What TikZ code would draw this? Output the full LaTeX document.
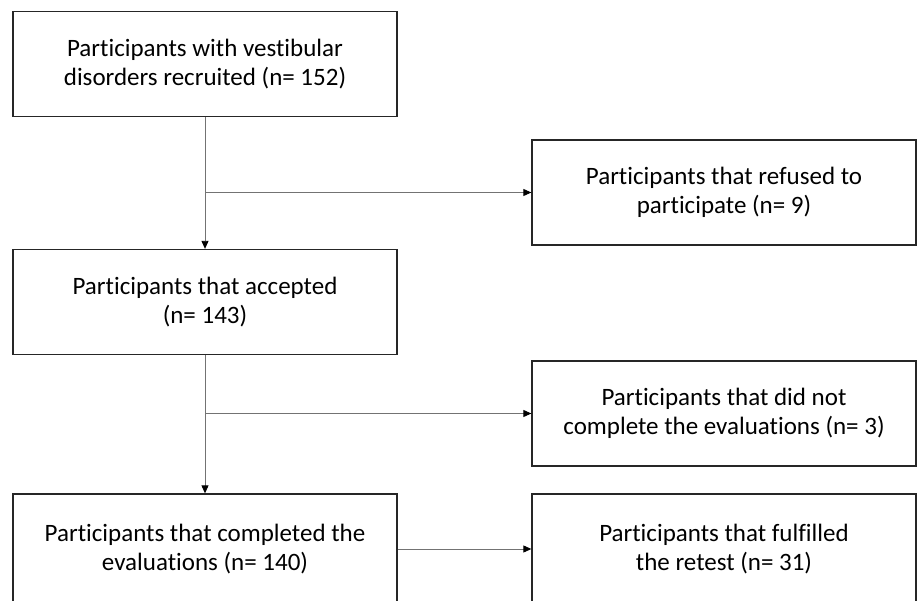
\documentclass[tikz,border=0pt]{standalone}
\usepackage{fontspec}
\setmainfont{Carlito}[Ligatures=NoCommon]
\usetikzlibrary{arrows.meta}
\begin{document}
\begin{tikzpicture}[x=1pt,y=1pt,
  box/.style={draw=black!85,line width=1.3pt,minimum width=384pt,minimum height=105pt,
    align=center,inner sep=0pt,font=\fontsize{25}{29}\selectfont,text=black},
  conn/.style={draw=black!55,line width=0.9pt,-{Triangle[length=8pt,width=7pt,color=black]}}]
\useasboundingbox (0,0) rectangle (917,601);
\clip (0,0) rectangle (917,601);
\node[box] (b1) at (205,537) {Participants with vestibular\\disorders recruited (n= 152)};
\node[box] (b2) at (724,408.5) {Participants that refused to\\participate (n= 9)};
\node[box] (b3) at (205,299) {Participants that accepted\\(n= 143)};
\node[box] (b4) at (724,187.5) {Participants that did not\\complete the evaluations (n= 3)};
\node[box,minimum height=110pt] (b5) at (205,52) {Participants that completed the\\evaluations (n= 140)};
\node[box,minimum height=110pt] (b6) at (724,52) {Participants that fulfilled\\the retest (n= 31)};
\draw[conn] (b1.south) -- (b3.north);
\coordinate (j1) at (b1.south |- b2.west);
\draw[conn] (j1) -- (b2.west);
\draw[conn] (b3.south) -- (b5.north);
\coordinate (j2) at (b3.south |- b4.west);
\draw[conn] (j2) -- (b4.west);
\draw[conn] (b5.east) -- (b6.west);
\end{tikzpicture}
\end{document}
